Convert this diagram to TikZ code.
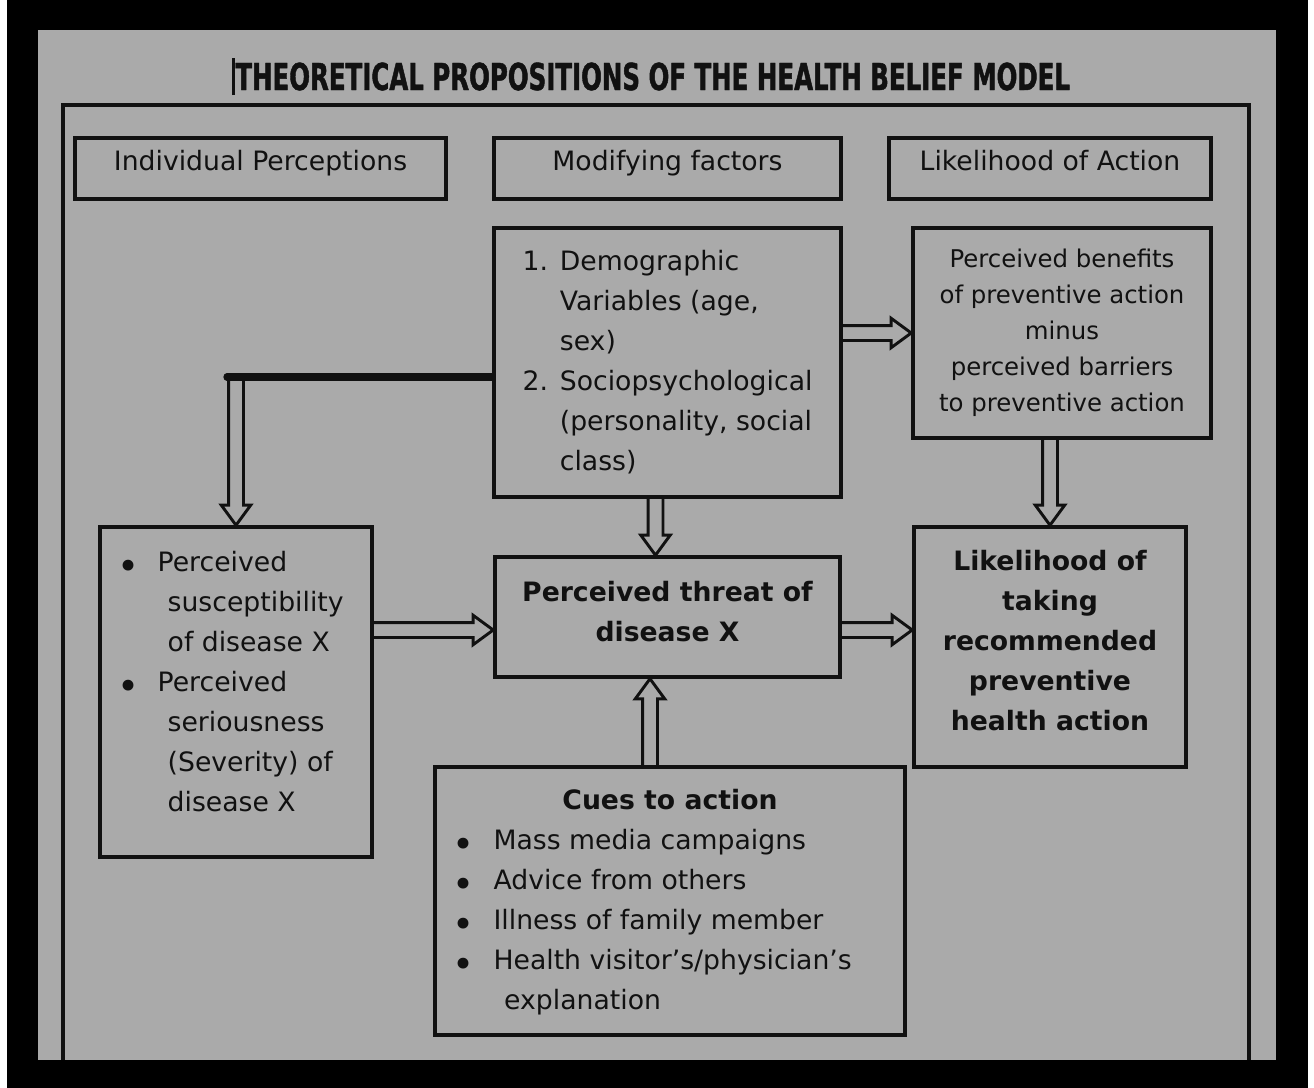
\documentclass[tikz,border=0pt]{standalone}
\usepackage{fontspec}
\setmainfont{DejaVu Sans}
\newfontfamily\titlefont{DejaVu Sans}[FakeStretch=0.66,BoldFeatures={FakeBold=1.2}]
\usetikzlibrary{calc}
\definecolor{panelgray}{HTML}{AAAAAA}
\definecolor{inkblack}{HTML}{111111}
\newcommand{\bigdot}{\raisebox{-6pt}{\scalebox{1.4}{\textbullet}}}

\begin{document}
\begin{tikzpicture}[x=0.75pt,y=-0.75pt]
	\tikzstyle{box node}=[draw=inkblack,line width=2.7pt,inner sep=0pt,text=inkblack,font=\fontsize{20}{30}\selectfont]
	\tikzstyle{head node}=[box node,minimum height=45.75pt,text height=15pt,text depth=12pt]
	\tikzset{
		bold node/.style={box node,font=\fontsize{20}{30}\selectfont\bfseries},
		hollow arrow/.style={draw=inkblack,line width=2.2pt,line join=miter,
			to path={let \p1=(\tikztostart),\p2=(\tikztotarget),
				\n1={veclen(\x2-\x1,\y2-\y1)},\n2={(\x2-\x1)/\n1},\n3={(\y2-\y1)/\n1} in
				({\x1-5.6pt*(\n3)},{\y1+5.6pt*(\n2)})
				-- ({\x2-15pt*(\n2)-5.6pt*(\n3)},{\y2-15pt*(\n3)+5.6pt*(\n2)})
				-- ({\x2-15pt*(\n2)-11pt*(\n3)},{\y2-15pt*(\n3)+11pt*(\n2)})
				-- (\p2)
				-- ({\x2-15pt*(\n2)+11pt*(\n3)},{\y2-15pt*(\n3)-11pt*(\n2)})
				-- ({\x2-15pt*(\n2)+5.6pt*(\n3)},{\y2-15pt*(\n3)-5.6pt*(\n2)})
				-- ({\x1+5.6pt*(\n3)},{\y1-5.6pt*(\n2)})}}
	}
	% frame and panel
	\useasboundingbox (0,0) rectangle (1314,1088);
	\fill[white] (0,0) rectangle (1314,1088);
	\fill[black] (7,0) rectangle (1308,1088);
	\fill[panelgray] (38,30) rectangle (1276,1060);
	\draw[inkblack,line width=2.7pt] (63,1060) |- (1249,105) -- (1249,1060);
	\node[text=inkblack] (title) at (651,76.5) {\titlefont\fontsize{27.8}{30}\selectfont\bfseries\rule[-3.75pt]{2.6pt}{27.75pt}THEORETICAL PROPOSITIONS OF THE HEALTH BELIEF MODEL};
	% column heads
	\node (indiv) [head node,minimum width=278.25pt] at (260.5,168.5) {Individual Perceptions};
	\node (modif) [head node,minimum width=260.25pt] at (667.5,168.5) {Modifying factors};
	\node (likely) [head node,minimum width=241.5pt] at (1050,168.5) {Likelihood of Action};
	% boxes
	\node (demo) [box node,minimum width=260.25pt,minimum height=201.75pt] at (667.5,362.5) {\begin{tabular}{@{}p{28pt}@{}l@{}}
		1. & Demographic\\
		& Variables (age,\\
		& sex)\\
		2. & Sociopsychological\\
		& (personality, social\\
		& class)
	\end{tabular}};
	\node (benefit) [box node,align=center,minimum width=223.5pt,minimum height=157.5pt,font=\fontsize{18.3}{27}\selectfont] at (1062,333) {Perceived benefits\\of preventive action\\minus\\perceived barriers\\to preventive action};
	\node (percept) [box node,minimum width=204pt,minimum height=247.5pt] at (236,692) {\begin{tabular}{@{}p{30pt}@{}l@{\hspace{8pt}}}
		\bigdot & Perceived\\
		& \hspace*{7.5pt}susceptibility\\
		& \hspace*{7.5pt}of disease X\\
		\bigdot & Perceived\\
		& \hspace*{7.5pt}seriousness\\
		& \hspace*{7.5pt}(Severity) of\\
		& \hspace*{7.5pt}disease X\\[13.5pt]
	\end{tabular}};
	\node (threat) [bold node,minimum width=258.75pt,minimum height=90pt] at (667.5,617) {\begin{tabular}{@{}c@{}}
		Perceived threat of\\
		disease X\\[6pt]
	\end{tabular}};
	\node (action) [bold node,minimum width=204pt,minimum height=180pt] at (1050,647) {\begin{tabular}{@{}c@{}}
		Likelihood of\\
		taking\\
		recommended\\
		preventive\\
		health action\\[7.5pt]
	\end{tabular}};
	\node (cues) [box node,minimum width=352.5pt,minimum height=201pt] at (670,901) {\begin{tabular}{@{}p{31pt}@{}l@{\hspace{27pt}}}
		\multicolumn{2}{@{}c@{}}{\bfseries Cues to action}\\
		\bigdot & Mass media campaigns\\
		\bigdot & Advice from others\\
		\bigdot & Illness of family member\\
		\bigdot & Health visitor’s/physician’s\\
		& \hspace*{8pt}explanation
	\end{tabular}};
	% connectors
	\coordinate (kink) at (227,377);
	\coordinate (thrin) at ($(threat.west)+(0,13)$);
	\coordinate (throut) at ($(threat.east)+(0,13)$);
	\draw[inkblack,line width=5.5pt,line cap=round] (demo.west |- kink) -- (kink);
	\draw[hollow arrow] (percept.north |- kink) to (percept.north);
	\draw[hollow arrow] (demo.east |- benefit.west) to (benefit.west);
	\draw[hollow arrow] ($(demo.south)+(-12,0)$) to ($(threat.north)+(-12,0)$);
	\draw[hollow arrow] (benefit.south -| action.north) to (action.north);
	\draw[hollow arrow] (percept.east |- thrin) to (thrin);
	\draw[hollow arrow] (throut) to (action.west |- throut);
	\draw[hollow arrow] ($(cues.north)+(-20,0)$) to ($(threat.south)+(-17.5,0)$);
\end{tikzpicture}
\end{document}
